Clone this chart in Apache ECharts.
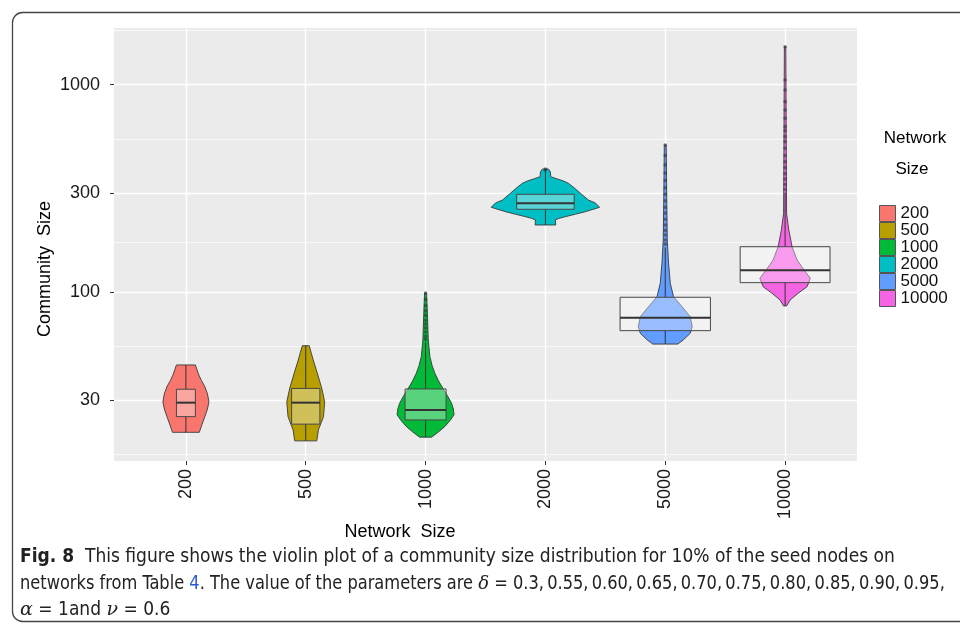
<!DOCTYPE html>
<html>
<head>
<meta charset="utf-8">
<script src="https://cdn.jsdelivr.net/npm/echarts@6/dist/echarts.min.js"></script>
<style>
  html, body { margin: 0; padding: 0; background: #ffffff; }
  #chart { width: 960px; height: 630px; }
</style>
</head>
<body>
<div id="chart"></div>
<script>
// Groups on the x axis and their fill colours
const networkSizes = ['200', '500', '1000', '2000', '5000', '10000'];
const groupColors = ['#F8766D', '#B79F00', '#00BA38', '#00BFC4', '#619CFF', '#F564E3'];

// Log-scaled y axis: labelled breaks, minor breaks and visible range (community size)
const yTickValues = [30, 100, 300, 1000];
const yMinorValues = [16.43, 54.77, 173.2, 547.7, 1825];
const yRange = [15.27, 1877];

// Violin outlines: community sizes from bottom to top, with the density half-width at each size
const violinSizes = [
  [21.0, 22.8, 25.0, 27.2, 29.5, 32.2, 34.9, 37.3, 39.7, 44.4],
  [19.1, 21.6, 25.0, 29.5, 34.4, 40.6, 46.9, 51.0, 55.0],
  [19.9, 21.1, 22.4, 24.1, 25.5, 27.2, 29.0, 31.5, 33.6, 37.2, 40.5, 44.0, 48.7, 58.6, 73.2, 86.5, 98.8],
  [210.3, 222.3, 226.0, 230.7, 237.0, 243.8, 256.0, 268.5, 277.6, 299.2, 317.2, 334.3, 343.0, 350.6, 359.7, 379.0, 391.8],
  [56.0, 58.6, 63.1, 67.9, 75.9, 84.9, 94.8, 110.0, 137.4, 178.1, 277.6, 511.7],
  [85.5, 91.4, 98.4, 105.9, 116.3, 127.5, 142.6, 165.2, 199.0, 239.4, 484.0, 1525]
];
const violinHalfWidths = [
  [0.112, 0.133, 0.158, 0.180, 0.192, 0.180, 0.158, 0.130, 0.108, 0.079],
  [0.092, 0.106, 0.148, 0.158, 0.133, 0.096, 0.0625, 0.045, 0.029],
  [0.050, 0.108, 0.161, 0.208, 0.2375, 0.232, 0.217, 0.183, 0.153, 0.108, 0.0775, 0.055, 0.036, 0.0225, 0.017, 0.0125, 0.008],
  [0.086, 0.083, 0.110, 0.167, 0.250, 0.333, 0.4525, 0.417, 0.358, 0.292, 0.242, 0.192, 0.150, 0.100, 0.044, 0.042, 0.025],
  [0.104, 0.150, 0.208, 0.225, 0.208, 0.139, 0.069, 0.042, 0.0275, 0.017, 0.0125, 0.008],
  [0.0125, 0.042, 0.108, 0.183, 0.211, 0.158, 0.100, 0.058, 0.031, 0.0125, 0.010, 0.006]
];

// Box plot statistics per group
const boxQ1 = [25.0, 23.0, 24.1, 250.4, 65.0, 110.8];
const boxMedian = [29.2, 29.2, 26.9, 267.7, 75.1, 127.1];
const boxQ3 = [33.9, 34.2, 34.0, 295.8, 94.2, 165.2];
const whiskerLow = [21.0, 19.1, 19.9, 210.3, 56.0, 85.5];
const whiskerHigh = [44.4, 55.0, 57.0, 380.0, 164.0, 301.0];
const boxHalfWidths = [0.079, 0.118, 0.171, 0.240, 0.377, 0.375];

// Points beyond the whiskers
const outliers = [
  [],
  [],
  [59, 61, 64, 67, 70, 73, 77, 81, 86, 92, 98.8],
  [386, 391.8],
  [170, 178, 188, 198, 210, 224, 240, 256, 275, 296, 318, 345, 375, 410, 455, 511.7],
  [312, 330, 350, 372, 398, 425, 455, 493, 530, 562, 600, 627, 689, 754, 828, 943, 1054, 1525]
];

const lg = Math.log10;
const textFont = '"Liberation Sans", Arial, Helvetica, sans-serif';
const captionFont = '"DejaVu Sans Condensed", "Liberation Sans", sans-serif';
const thin = '\u2009';

function makeRenderItem(i) {
  return function (params, api) {
    const x = api.value(0);
    const sizes = violinSizes[i];
    const widths = violinHalfWidths[i];
    const rightSide = sizes.map((s, k) => api.coord([x + widths[k], lg(s)]));
    const leftSide = sizes.map((s, k) => api.coord([x - widths[k], lg(s)])).reverse();
    const children = [];

    children.push({
      type: 'polygon',
      shape: { points: rightSide.concat(leftSide) },
      style: { fill: groupColors[i], stroke: '#3a3a3a', lineWidth: 0.9 }
    });

    const pLow = api.coord([x, lg(whiskerLow[i])]);
    const pQ1 = api.coord([x, lg(boxQ1[i])]);
    const pQ3 = api.coord([x, lg(boxQ3[i])]);
    const pHigh = api.coord([x, lg(whiskerHigh[i])]);
    const whiskerStyle = { stroke: '#333333', lineWidth: 1 };
    children.push({ type: 'line', shape: { x1: pLow[0], y1: pLow[1], x2: pQ1[0], y2: pQ1[1] }, style: whiskerStyle });
    children.push({ type: 'line', shape: { x1: pQ3[0], y1: pQ3[1], x2: pHigh[0], y2: pHigh[1] }, style: whiskerStyle });

    outliers[i].forEach(v => {
      const p = api.coord([x, lg(v)]);
      children.push({
        type: 'circle',
        shape: { cx: p[0], cy: p[1], r: 1.8 },
        style: { fill: 'rgba(45,45,45,0.55)' }
      });
    });

    const boxTL = api.coord([x - boxHalfWidths[i], lg(boxQ3[i])]);
    const boxBR = api.coord([x + boxHalfWidths[i], lg(boxQ1[i])]);
    children.push({
      type: 'rect',
      shape: { x: boxTL[0], y: boxTL[1], width: boxBR[0] - boxTL[0], height: boxBR[1] - boxTL[1] },
      style: { fill: 'rgba(255,255,255,0.35)', stroke: '#474747', lineWidth: 1 }
    });

    const mL = api.coord([x - boxHalfWidths[i], lg(boxMedian[i])]);
    const mR = api.coord([x + boxHalfWidths[i], lg(boxMedian[i])]);
    children.push({
      type: 'line',
      shape: { x1: mL[0], y1: mL[1], x2: mR[0], y2: mR[1] },
      style: { stroke: '#333333', lineWidth: 2 }
    });

    return { type: 'group', children: children };
  };
}

const chart = echarts.init(document.getElementById('chart'), null, { renderer: 'canvas' });

const categoryPositions = networkSizes.map((_, i) => i + 1);

const option = {
  animation: false,
  backgroundColor: '#ffffff',
  textStyle: { fontFamily: textFont },
  grid: {
    left: 114, top: 28, width: 743, height: 433,
    show: true, backgroundColor: '#EBEBEB', borderWidth: 0
  },
  xAxis: {
    type: 'value',
    min: 0.4, max: 6.6,
    axisLine: { show: false },
    axisTick: { show: true, customValues: categoryPositions, length: 4, lineStyle: { color: '#333333', width: 1 } },
    axisLabel: {
      customValues: categoryPositions,
      rotate: 90, margin: 8,
      fontSize: 18, color: '#1a1a1a', fontFamily: textFont,
      formatter: v => networkSizes[Math.round(v) - 1]
    },
    splitLine: { show: true, lineStyle: { color: '#ffffff', width: 1.4 } }
  },
  yAxis: [
    {
      type: 'value',
      min: lg(yRange[0]), max: lg(yRange[1]),
      axisLine: { show: false },
      axisTick: { show: true, customValues: yTickValues.map(lg), length: 4, lineStyle: { color: '#333333', width: 1 } },
      axisLabel: {
        customValues: yTickValues.map(lg),
        margin: 14, fontSize: 18, color: '#1a1a1a', fontFamily: textFont,
        formatter: v => String(Math.round(Math.pow(10, v)))
      },
      splitLine: { show: true, lineStyle: { color: '#ffffff', width: 1.4 } }
    },
    {
      type: 'value',
      position: 'left',
      min: lg(yRange[0]), max: lg(yRange[1]),
      axisLine: { show: false },
      axisTick: { show: false, customValues: yMinorValues.map(lg) },
      axisLabel: { show: false, customValues: yMinorValues.map(lg) },
      splitLine: { show: true, lineStyle: { color: '#ffffff', width: 0.7 } }
    }
  ],
  legend: {
    orient: 'vertical',
    left: 874, top: 200,
    itemWidth: 16, itemHeight: 16, itemGap: 0,
    icon: 'rect',
    selectedMode: false,
    textStyle: { fontSize: 17, color: '#111111', lineHeight: 16, fontFamily: textFont },
    data: networkSizes.map((n, i) => ({
      name: n,
      itemStyle: { color: groupColors[i], borderColor: '#555555', borderWidth: 1 }
    }))
  },
  series: networkSizes.map((n, i) => ({
    type: 'custom',
    name: n,
    coordinateSystem: 'cartesian2d',
    color: groupColors[i],
    clip: true,
    encode: { x: 0, y: 1 },
    data: [[i + 1, lg(boxMedian[i])]],
    renderItem: makeRenderItem(i)
  })),
  graphic: [
    {
      type: 'rect',
      shape: { x: 12.5, y: 12.5, width: 1000, height: 609, r: 10 },
      style: { fill: 'none', stroke: '#444444', lineWidth: 1.3 },
      silent: true
    },
    {
      type: 'text', x: 45, y: 269, rotation: Math.PI / 2,
      style: { text: 'Community  Size', fontSize: 18, fontFamily: textFont, fill: '#000000', align: 'center', verticalAlign: 'middle' }
    },
    {
      type: 'text', x: 400, y: 532,
      style: { text: 'Network  Size', fontSize: 18, fontFamily: textFont, fill: '#000000', align: 'center', verticalAlign: 'middle' }
    },
    {
      type: 'text', x: 915, y: 138,
      style: { text: 'Network', fontSize: 17, fontFamily: textFont, fill: '#000000', align: 'center', verticalAlign: 'middle' }
    },
    {
      type: 'text', x: 912, y: 169,
      style: { text: 'Size', fontSize: 17, fontFamily: textFont, fill: '#000000', align: 'center', verticalAlign: 'middle' }
    },
    {
      type: 'text', x: 20, y: 557,
      style: {
        text: '{b|Fig. 8}  This figure shows the violin plot of a community size distribution for 10% of the seed nodes on',
        fontSize: 19, fontFamily: captionFont, fill: '#222222',
        verticalAlign: 'middle',
        rich: { b: { fontWeight: 'bold', fontSize: 19, fontFamily: captionFont, fill: '#222222' } }
      }
    },
    {
      type: 'text', x: 20, y: 584, scaleX: 0.95,
      style: {
        text: 'networks from Table {blue|4}. The value of the parameters are {i|δ} = ' +
          ['0.3', '0.55', '0.60', '0.65', '0.70', '0.75', '0.80', '0.85', '0.90', '0.95'].join(',' + thin) + ',',
        fontSize: 19, fontFamily: captionFont, fill: '#222222',
        verticalAlign: 'middle',
        rich: {
          blue: { fill: '#2B5BD7', fontSize: 19, fontFamily: captionFont },
          i: { fontStyle: 'italic', fontSize: 19, fontFamily: '"DejaVu Serif", serif', fill: '#222222' }
        }
      }
    },
    {
      type: 'text', x: 20, y: 610,
      style: {
        text: '{i|α} = 1and {i|ν} = 0.6',
        fontSize: 19, fontFamily: captionFont, fill: '#222222',
        verticalAlign: 'middle',
        rich: { i: { fontStyle: 'italic', fontSize: 19, fontFamily: '"DejaVu Serif", serif', fill: '#222222' } }
      }
    }
  ]
};

chart.setOption(option);
</script>
</body>
</html>
